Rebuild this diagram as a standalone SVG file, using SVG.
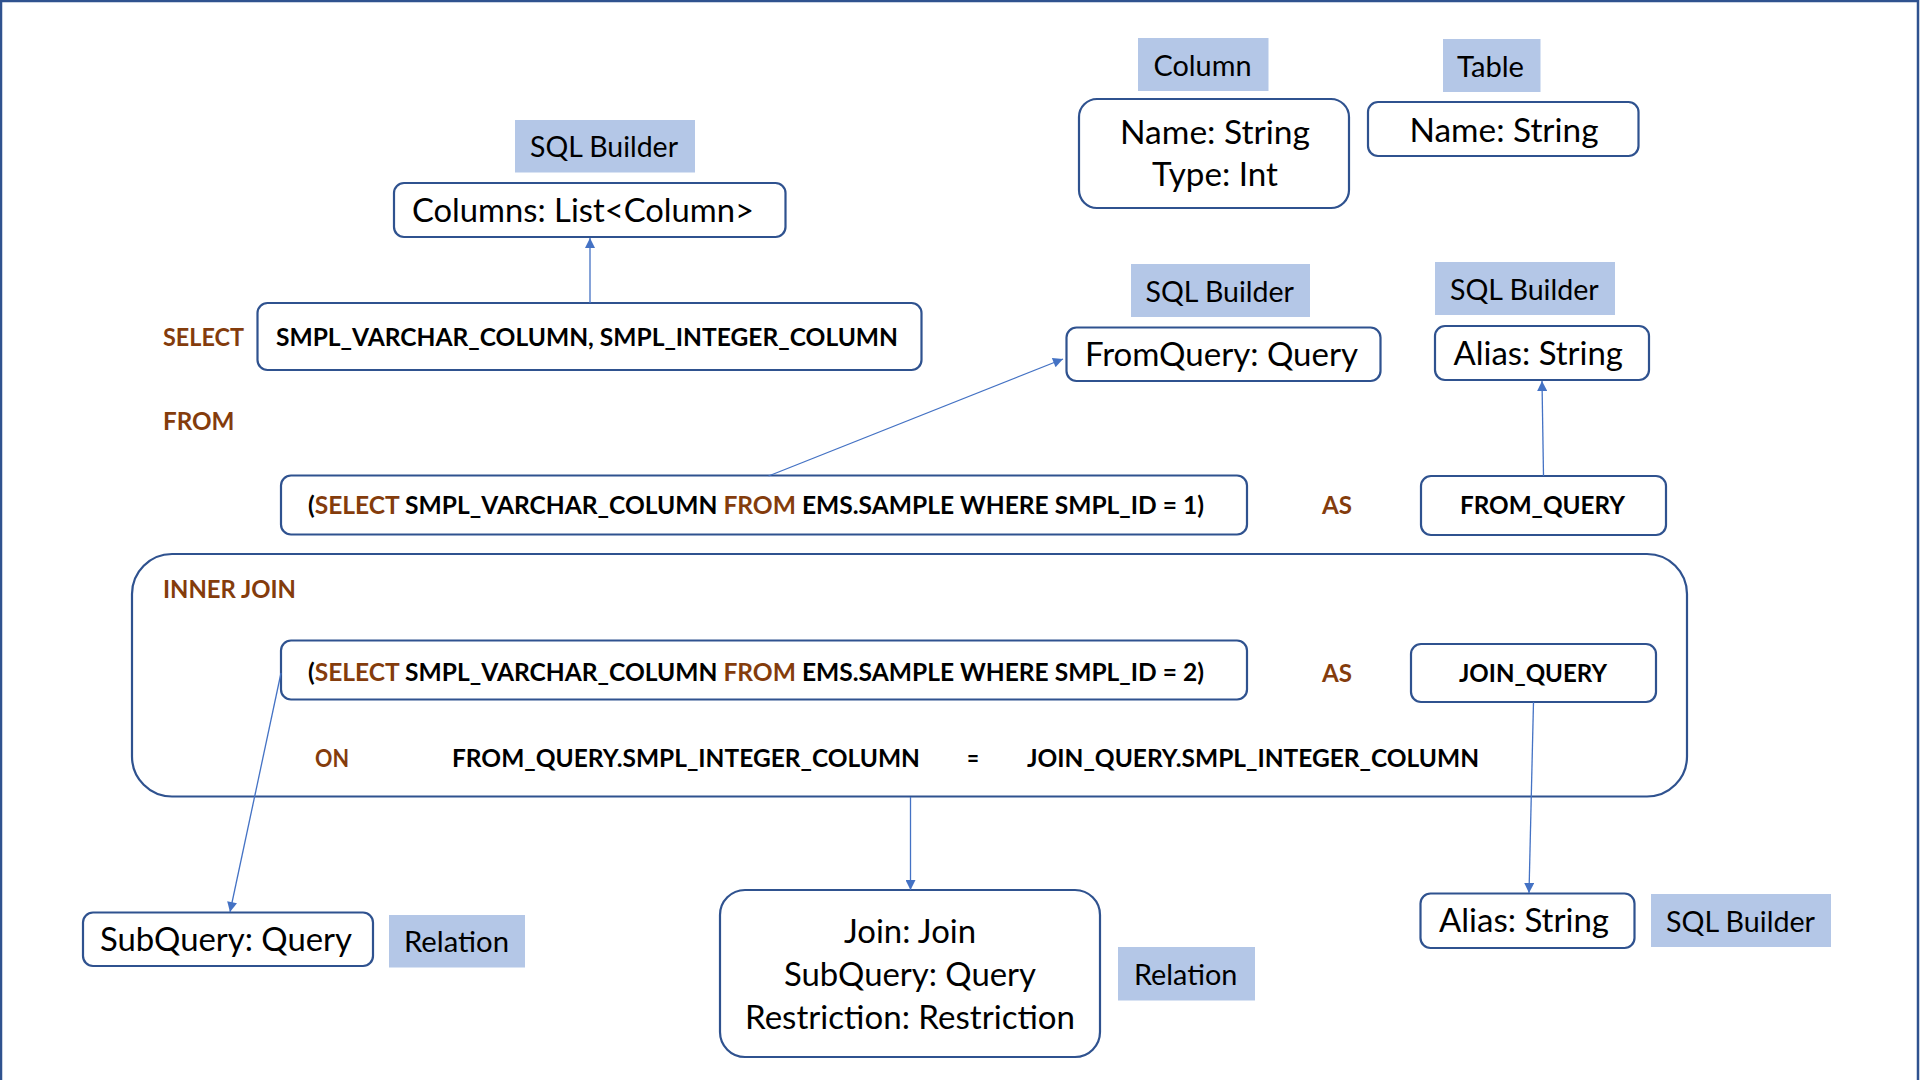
<svg xmlns="http://www.w3.org/2000/svg" width="1920" height="1080" viewBox="0 0 1920 1080">
<defs>
<style>
.bg{fill:#ffffff}
.frame{fill:none;stroke:#2F528F;stroke-width:2.5}
.box{fill:#ffffff;stroke:#2F528F;stroke-width:2.2}
.grp{fill:none;stroke:#2F528F;stroke-width:2.2}
.lbl{fill:#B4C7E7;stroke:none}
.t{font-family:Lato,"Liberation Sans",sans-serif;font-size:32px;fill:#000}
.tl{font-family:Lato,"Liberation Sans",sans-serif;font-size:28.5px;fill:#000}
.b{font-family:Lato,"Liberation Sans",sans-serif;font-size:25px;font-weight:bold;fill:#000}
.k{fill:#843C0C}
.c{fill:none;stroke:#4472C4;stroke-width:1.3}
</style>
<marker id="ah" viewBox="0 0 10 10" refX="10" refY="5" markerWidth="13" markerHeight="10" markerUnits="userSpaceOnUse" orient="auto">
<path d="M0,0 L10,5 L0,10 z" fill="#4472C4"/>
</marker>
</defs>
<rect class="bg" x="0" y="0" width="1920" height="1080"/>
<rect class="frame" x="1" y="1" width="1917" height="1100"/>

<g id="inner-join">
<rect class="grp" x="132" y="554" width="1555" height="242.5" rx="40"/>
<text class="b k" x="163" y="598" textLength="133" lengthAdjust="spacingAndGlyphs">INNER JOIN</text>
</g>

<g id="sqlbuilder-columns-label">
<rect class="lbl" x="515" y="120" width="180" height="52.5"/>
<text class="tl" x="530" y="157" textLength="148" lengthAdjust="spacingAndGlyphs">SQL Builder</text>
</g>
<g id="columns">
<rect class="box" x="394" y="183" width="391.5" height="54" rx="10"/>
<text class="t" x="412" y="222" textLength="342" lengthAdjust="spacingAndGlyphs">Columns: List&lt;Column&gt;</text>
</g>

<g id="column-label">
<rect class="lbl" x="1138" y="38" width="130.5" height="53"/>
<text class="tl" x="1153.5" y="76" textLength="98" lengthAdjust="spacingAndGlyphs">Column</text>
</g>
<g id="column">
<rect class="box" x="1079" y="99" width="270" height="109" rx="18"/>
<text class="t" x="1120" y="144" textLength="190" lengthAdjust="spacingAndGlyphs">Name: String</text>
<text class="t" x="1152" y="186" textLength="126" lengthAdjust="spacingAndGlyphs">Type: Int</text>
</g>

<g id="table-label">
<rect class="lbl" x="1443" y="39" width="97.5" height="53"/>
<text class="tl" x="1457" y="77" textLength="67" lengthAdjust="spacingAndGlyphs">Table</text>
</g>
<g id="table">
<rect class="box" x="1368" y="102" width="270.5" height="54" rx="10"/>
<text class="t" x="1409.5" y="142" textLength="189" lengthAdjust="spacingAndGlyphs">Name: String</text>
</g>

<g id="select-keyword">
<text class="b k" x="163" y="346" textLength="81" lengthAdjust="spacingAndGlyphs">SELECT</text>
</g>
<g id="select-columns">
<rect class="box" x="257.5" y="303" width="664" height="67" rx="10"/>
<text class="b" x="276" y="346" textLength="622" lengthAdjust="spacingAndGlyphs">SMPL_VARCHAR_COLUMN, SMPL_INTEGER_COLUMN</text>
</g>

<g id="sqlbuilder-fromquery-label">
<rect class="lbl" x="1131" y="264" width="179" height="53"/>
<text class="tl" x="1145.5" y="302" textLength="148.5" lengthAdjust="spacingAndGlyphs">SQL Builder</text>
</g>
<g id="fromquery">
<rect class="box" x="1066.5" y="327.5" width="314" height="53.5" rx="10"/>
<text class="t" x="1085" y="366" textLength="273" lengthAdjust="spacingAndGlyphs">FromQuery: Query</text>
</g>

<g id="sqlbuilder-alias1-label">
<rect class="lbl" x="1435" y="262" width="180" height="53"/>
<text class="tl" x="1450" y="300" textLength="148.7" lengthAdjust="spacingAndGlyphs">SQL Builder</text>
</g>
<g id="alias1">
<rect class="box" x="1435" y="326" width="214" height="54" rx="10"/>
<text class="t" x="1453.5" y="365" textLength="169.5" lengthAdjust="spacingAndGlyphs">Alias: String</text>
</g>

<g id="from-keyword">
<text class="b k" x="163" y="430" textLength="71.5" lengthAdjust="spacingAndGlyphs">FROM</text>
</g>
<g id="subquery1">
<rect class="box" x="281" y="475.5" width="966" height="59" rx="10"/>
<text class="b" x="308" y="514" textLength="896" lengthAdjust="spacingAndGlyphs">(<tspan class="k">SELECT</tspan> SMPL_VARCHAR_COLUMN <tspan class="k">FROM</tspan> EMS.SAMPLE WHERE SMPL_ID = 1)</text>
</g>
<g id="as1">
<text class="b k" x="1322" y="514" textLength="30" lengthAdjust="spacingAndGlyphs">AS</text>
</g>
<g id="from-query">
<rect class="box" x="1421" y="476" width="245" height="59" rx="10"/>
<text class="b" x="1460" y="514" textLength="165" lengthAdjust="spacingAndGlyphs">FROM_QUERY</text>
</g>

<g id="subquery2">
<rect class="box" x="281" y="640.5" width="966" height="59" rx="10"/>
<text class="b" x="308" y="681" textLength="896" lengthAdjust="spacingAndGlyphs">(<tspan class="k">SELECT</tspan> SMPL_VARCHAR_COLUMN <tspan class="k">FROM</tspan> EMS.SAMPLE WHERE SMPL_ID = 2)</text>
</g>
<g id="as2">
<text class="b k" x="1322" y="682" textLength="30" lengthAdjust="spacingAndGlyphs">AS</text>
</g>
<g id="join-query">
<rect class="box" x="1411" y="644" width="245" height="58" rx="10"/>
<text class="b" x="1459" y="682" textLength="148" lengthAdjust="spacingAndGlyphs">JOIN_QUERY</text>
</g>

<g id="on-clause">
<text class="b k" x="315" y="767" textLength="34" lengthAdjust="spacingAndGlyphs">ON</text>
<text class="b" x="452" y="767" textLength="468" lengthAdjust="spacingAndGlyphs">FROM_QUERY.SMPL_INTEGER_COLUMN</text>
<text class="b" x="967" y="767" textLength="12" lengthAdjust="spacingAndGlyphs">=</text>
<text class="b" x="1027" y="767" textLength="452" lengthAdjust="spacingAndGlyphs">JOIN_QUERY.SMPL_INTEGER_COLUMN</text>
</g>

<g id="subquery-relation">
<rect class="box" x="83" y="912.5" width="290" height="53.5" rx="10"/>
<text class="t" x="100" y="951" textLength="252" lengthAdjust="spacingAndGlyphs">SubQuery: Query</text>
</g>
<g id="relation1-label">
<rect class="lbl" x="389" y="915" width="136" height="52.5"/>
<text class="tl" x="404" y="952" textLength="105" lengthAdjust="spacingAndGlyphs">Relation</text>
</g>

<g id="join-relation">
<rect class="box" x="720" y="890" width="380" height="167" rx="25"/>
<text class="t" x="844" y="943" textLength="132" lengthAdjust="spacingAndGlyphs">Join: Join</text>
<text class="t" x="784" y="986" textLength="252" lengthAdjust="spacingAndGlyphs">SubQuery: Query</text>
<text class="t" x="745" y="1029" textLength="330" lengthAdjust="spacingAndGlyphs">Restriction: Restriction</text>
</g>
<g id="relation2-label">
<rect class="lbl" x="1118" y="947" width="137" height="53.5"/>
<text class="tl" x="1134" y="985" textLength="103.4" lengthAdjust="spacingAndGlyphs">Relation</text>
</g>

<g id="alias2">
<rect class="box" x="1420.5" y="893.5" width="214" height="54.5" rx="10"/>
<text class="t" x="1439" y="932" textLength="170" lengthAdjust="spacingAndGlyphs">Alias: String</text>
</g>
<g id="sqlbuilder-alias2-label">
<rect class="lbl" x="1651" y="894" width="180" height="53"/>
<text class="tl" x="1666" y="932" textLength="149" lengthAdjust="spacingAndGlyphs">SQL Builder</text>
</g>

<g id="connectors">
<line class="c" x1="590" y1="303" x2="590" y2="238" marker-end="url(#ah)"/>
<line class="c" x1="768.5" y1="476" x2="1063" y2="359" marker-end="url(#ah)"/>
<line class="c" x1="1543.5" y1="476" x2="1542" y2="381" marker-end="url(#ah)"/>
<line class="c" x1="281" y1="673" x2="230" y2="912" marker-end="url(#ah)"/>
<line class="c" x1="910.5" y1="797" x2="910.5" y2="890" marker-end="url(#ah)"/>
<line class="c" x1="1533.5" y1="702" x2="1529" y2="893" marker-end="url(#ah)"/>
</g>
</svg>
